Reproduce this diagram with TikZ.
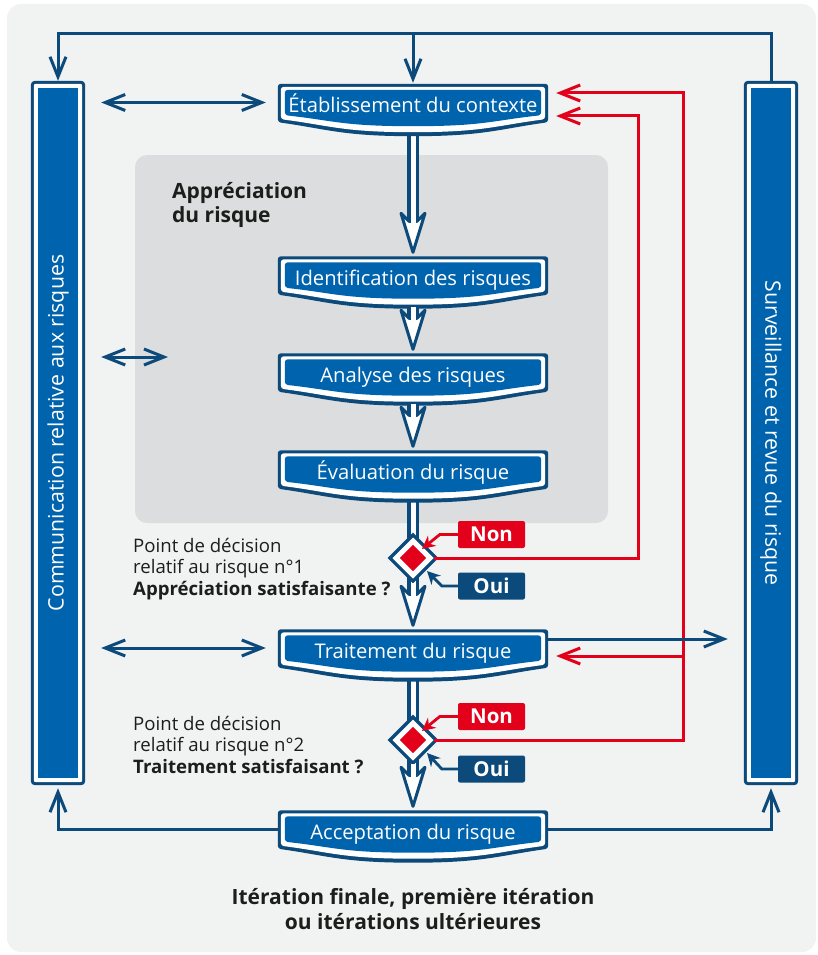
\documentclass[tikz,border=0pt]{standalone}
\usepackage{fontspec}
\usepackage{graphicx}
\setmainfont{Open Sans}
\usetikzlibrary{arrows.meta,shapes.geometric,calc}

\definecolor{riskblue}{HTML}{0063AD}
\definecolor{riskdark}{HTML}{0B4A7A}
\definecolor{riskred}{HTML}{E2001A}
\definecolor{riskbg}{HTML}{F1F2F2}
\definecolor{riskgray}{HTML}{DCDDDE}
\definecolor{risktext}{HTML}{1D1D1B}

\pgfdeclarelayer{bg}
\pgfdeclarelayer{stem}
\pgfdeclarelayer{frame}
\pgfsetlayers{bg,stem,frame,main}

% shield under a stage node: node, side pad, top pad, side drop, middle drop, colour
\newcommand\shield[6]{%
  \fill[#6, rounded corners=3pt]
    ([shift={(0,#5)}]#1.south)
    .. controls +(-70,0) and +(50,{0.5*(#5-#4)}) .. ([shift={(-#2,#4)}]#1.south west)
    -- ([shift={(-#2,-#3)}]#1.north west)
    -- ([shift={(#2,-#3)}]#1.north east)
    -- ([shift={(#2,#4)}]#1.south east)
    .. controls +(-50,{0.5*(#5-#4)}) and +(70,0) .. ([shift={(0,#5)}]#1.south);}

\newcommand\stageframe[1]{%
  \begin{pgfonlayer}{frame}
    \shield{#1}{7}{6}{7}{21}{riskdark}
    \shield{#1}{4}{3}{4}{17}{white}
    \shield{#1}{0}{0}{0}{11}{riskblue}
  \end{pgfonlayer}}

\newcommand\sideframe[1]{%
  \begin{pgfonlayer}{frame}
    \fill[riskdark, rounded corners=4pt] ([shift={(-7,-7)}]#1.north west) rectangle ([shift={(7,7)}]#1.south east);
    \fill[white, rounded corners=2pt] ([shift={(-4,-4)}]#1.north west) rectangle ([shift={(4,4)}]#1.south east);
  \end{pgfonlayer}}

% hollow arrow from one stage down to the next
\newcommand\bigarrow[2]{%
  \coordinate (tip) at ([shift={(0,-10)}]#2.north);
  \begin{pgfonlayer}{stem}
    \draw[riskdark, line width=3.2pt, double=white, double distance=5pt] (#1.south) -- ([shift={(0,-30)}]tip);
  \end{pgfonlayer}
  \draw[riskdark, line width=3pt, fill=white, line join=round] (tip) -- ++(-12,-39) -- ++(8,8) -- ++(8,0) -- ++(8,-8) -- cycle;
  \draw[white, line width=5pt] ([shift={(0,-42)}]tip) -- ([shift={(0,-28)}]tip);}

\begin{document}
\begin{tikzpicture}[x=1pt, y=-1pt, >={Straight Barb[length=20pt,width=16pt]},
    stage/.style={text=white, font=\fontsize{20.2}{24}\selectfont, minimum width=256pt,
      inner sep=0pt, text height=22.5pt, text depth=2.5pt, anchor=base},
    sidebar/.style={fill=riskblue, text=white, minimum width=40pt, minimum height=690pt,
      inner sep=0pt, font=\fontsize{21.3}{24}\selectfont},
    assessbox/.style={fill=riskgray, rounded corners=12pt, minimum width=473pt, minimum height=368pt},
    link/.style={riskdark, line width=3pt},
    feedback/.style={riskred, line width=3pt, ->, shorten >=15pt},
    pointer/.style={line width=2.8pt, -{Stealth[length=13pt,width=13pt]}},
    decision/.style={diamond, minimum width=36pt, minimum height=36pt, inner sep=0pt, fill=riskred,
      draw=white, line width=5pt, preaction={draw=riskdark, line width=12pt}},
    answer/.style={minimum width=67pt, minimum height=27pt, inner sep=0pt, text=white,
      rounded corners=2pt, font=\bfseries\fontsize{20.5}{24}\selectfont},
    note/.style={anchor=north west, align=left, text=risktext, inner sep=0pt,
      font=\fontsize{18.6}{21.5}\selectfont},
    heading/.style={anchor=north west, align=left, text=risktext, inner sep=0pt,
      font=\bfseries\fontsize{21}{24.5}\selectfont},
    closing/.style={anchor=north, align=center, text=risktext, inner sep=0pt,
      font=\bfseries\fontsize{21}{25}\selectfont}]

  \useasboundingbox (0,0) rectangle (818,955);
  \begin{pgfonlayer}{bg}
    \fill[riskbg, rounded corners=14pt] (7,4) rectangle (816,952);
    \node[assessbox] (assess) at (371.5,339) {};
  \end{pgfonlayer}

  % side bars
  \node[sidebar] (comm) at (58,433) {\rotatebox{90}{Communication relative aux risques}};
  \node[sidebar] (surv) at (771,433) {\rotatebox{-90}{Surveillance et revue du risque}};
  \sideframe{comm}
  \sideframe{surv}

  % process steps
  \node[stage] (ctx) at (413,112.5) {Établissement du contexte};
  \node[stage] (ident) at (413,285) {Identification des risques};
  \node[stage] (analyse) at (413,382) {Analyse des risques};
  \node[stage] (eval) at (413,479) {Évaluation du risque};
  \node[stage] (treat) at (413,658) {Traitement du risque};
  \node[stage] (accept) at (413,839) {Acceptation du risque};
  \foreach \s in {ctx,ident,analyse,eval,treat,accept} {\stageframe{\s}}

  \node[decision] (d1) at (413,558) {};
  \node[decision] (d2) at (413,740) {};

  \bigarrow{ctx}{ident}
  \bigarrow{ident}{analyse}
  \bigarrow{analyse}{eval}
  \bigarrow{eval}{treat}
  \bigarrow{treat}{accept}

  % answers
  \node[answer, fill=riskred] (non1) at (491.5,534.5) {Non};
  \node[answer, fill=riskdark] (oui1) at (491.5,586) {Oui};
  \node[answer, fill=riskred] (non2) at (491.5,716.5) {Non};
  \node[answer, fill=riskdark] (oui2) at (491.5,769) {Oui};
  \draw[pointer, riskred] (non1.west) -- ++(-18,0) -- ([shift={(9,-9)}]d1.center);
  \draw[pointer, riskdark] (oui1.west) -- ++(-16,0) -- ([shift={(14,13)}]d1.center);
  \draw[pointer, riskred] (non2.west) -- ++(-18,0) -- ([shift={(9,-9)}]d2.center);
  \draw[pointer, riskdark] (oui2.west) -- ++(-16,0) -- ([shift={(14,13)}]d2.center);

  % loops back
  \coordinate (loopA) at (638,116);
  \coordinate (loopB) at (683,93);
  \coordinate (loopC) at (683,656);
  \draw[feedback] (d1.east) -| (loopA) -- (ctx.east |- loopA);
  \draw[feedback] (d2.east) -| (loopB) -- (ctx.east |- loopB);
  \draw[feedback] (loopC) -- (treat.east |- loopC);

  % communication and monitoring
  \coordinate (topline) at (413,34);
  \coordinate (assessin) at (168,357);
  \coordinate (survin) at (surv.west |- treat.east);
  \draw[link, ->, shorten <=6pt, shorten >=7pt] (surv.north) |- (topline) -| (comm.north);
  \draw[link, ->, shorten >=7pt] (topline) -- (ctx.north);
  \draw[link, <->, shorten <=23pt, shorten >=19pt] (comm.east |- ctx.west) -- (ctx.west);
  \draw[link, <->, shorten <=23pt] (comm.east |- assessin) -- (assessin);
  \draw[link, <->, shorten <=23pt, shorten >=19pt] (comm.east |- treat.west) -- (treat.west);
  \draw[link, ->, shorten <=7pt, shorten >=23pt] ([yshift=9pt]treat.east) -- ([yshift=9pt]survin);
  \draw[link, ->, shorten <=7pt, shorten >=10pt] (accept.west) -| (comm.south);
  \draw[link, ->, shorten <=7pt, shorten >=10pt] (accept.east) -| (surv.south);

  % texts
  \node[heading] (assesstitle) at (172,182) {Appréciation\\du risque};
  \node[note] (q1) at (133,538) {Point de décision\\relatif au risque n°1\\\textbf{Appréciation satisfaisante ?}};
  \node[note] (q2) at (133,716) {Point de décision\\relatif au risque n°2\\\textbf{Traitement satisfaisant ?}};
  \node[closing] (final) at (413,888) {Itération finale, première itération\\ou itérations ultérieures};
\end{tikzpicture}
\end{document}
